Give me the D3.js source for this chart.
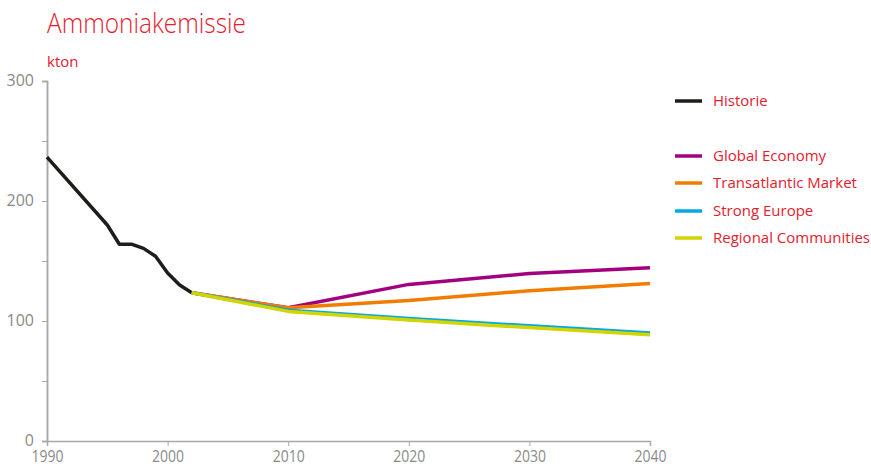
<!DOCTYPE html>
<html>
<head>
<meta charset="utf-8">
<script src="https://cdn.jsdelivr.net/npm/d3@7"></script>
<style>
  body { margin: 0; background: #fff; }
  text { font-family: "Open Sans", sans-serif; }
</style>
</head>
<body>
<div id="chart"></div>
<script>
// values
const histYears = [1990, 1995, 1996, 1997, 1998, 1999, 2000, 2001, 2002]
const histValues = [236.5, 180, 164, 164, 160.5, 154, 140, 130, 123.5]

const scenYears = [2002, 2010, 2020, 2030, 2040]
const globalEconomy = [123.5, 111, 130.5, 139.5, 144.3]
const transatlantic = [123.5, 111, 117, 125.3, 131.3]
const strongEurope = [123.5, 109, 102, 96, 90]
const regional = [123.5, 108, 100.8, 94.5, 88.5]

const yTicks = [0, 100, 200, 300]
const yMinor = [50, 150, 250]
const xTicks = [1990, 2000, 2010, 2020, 2030, 2040]

const series = [
  { name: 'Historie', years: histYears, values: histValues, color: '#1d1d1b' },
  { name: 'Global Economy', years: scenYears, values: globalEconomy, color: '#a3007f' },
  { name: 'Transatlantic Market', years: scenYears, values: transatlantic, color: '#f07d00' },
  { name: 'Strong Europe', years: scenYears, values: strongEurope, color: '#00a8e6' },
  { name: 'Regional Communities', years: scenYears, values: regional, color: '#d2d500' }
]

const width = 871, height = 466
const red = '#e5202e', grey = '#8a8a8a', axisCol = '#a8a8a8'

const svg = d3.select('#chart').append('svg')
  .attr('width', width)
  .attr('height', height)

const x = d3.scaleLinear().domain([1990, 2040]).range([47, 650])
const y = d3.scaleLinear().domain([0, 300]).range([441, 81])

// title + unit
svg.append('text')
  .attr('x', 47).attr('y', 33)
  .attr('fill', red)
  .style('font-size', '27px').style('font-weight', 300)
  .attr('textLength', 199).attr('lengthAdjust', 'spacingAndGlyphs')
  .text('Ammoniakemissie')
svg.append('text')
  .attr('x', 47).attr('y', 67)
  .attr('fill', red)
  .style('font-size', '15px')
  .text('kton')

// y axis
const yAxis = svg.append('g')
  .attr('transform', `translate(${x(1990)},0)`)
  .call(d3.axisLeft(y).tickValues(yTicks).tickSize(5).tickFormat(d3.format('d')))
yAxis.append('g')
  .call(d3.axisLeft(y).tickValues(yMinor).tickSize(5).tickFormat(''))
yAxis.selectAll('.domain').attr('stroke', axisCol).attr('stroke-width', 1.5)
yAxis.selectAll('.tick line').attr('stroke', axisCol).attr('stroke-width', 1)
yAxis.selectAll('.tick text')
  .attr('fill', grey)
  .attr('x', -13)
  .attr('dy', '0.25em')
  .style('font-size', '16px')
  .style('font-family', '"Open Sans", sans-serif')

// x axis
const xAxis = svg.append('g')
  .attr('transform', `translate(0,${y(0)})`)
  .call(d3.axisBottom(x).tickValues(xTicks).tickSize(5).tickFormat(d3.format('d')))
xAxis.select('.domain').attr('stroke', axisCol).attr('stroke-width', 1.5)
xAxis.selectAll('.tick line').attr('stroke', axisCol)
xAxis.selectAll('.tick text')
  .attr('fill', grey)
  .attr('y', 10)
  .style('font-size', '16px')
  .style('font-family', '"Open Sans", sans-serif')
  .attr('textLength', 32).attr('lengthAdjust', 'spacingAndGlyphs')

// lines
const line = d3.line()
  .x(d => x(d[0]))
  .y(d => y(d[1]))

svg.selectAll('.series')
  .data(series)
  .enter().append('path')
  .attr('class', 'series')
  .attr('fill', 'none')
  .attr('stroke', d => d.color)
  .attr('stroke-width', 3.5)
  .attr('stroke-linejoin', 'round')
  .attr('d', d => line(d.years.map((yr, i) => [yr, d.values[i]])))

// legend
const legendY = [101, 156, 183, 211, 238]
const legend = svg.selectAll('.legend')
  .data(series)
  .enter().append('g')
  .attr('class', 'legend')
  .attr('transform', (d, i) => `translate(675,${legendY[i]})`)
legend.append('line')
  .attr('x1', 0).attr('x2', 27)
  .attr('stroke', d => d.color)
  .attr('stroke-width', 3.5)
legend.append('text')
  .attr('x', 38).attr('y', 5)
  .attr('fill', red)
  .style('font-size', '15px')
  .text(d => d.name)
</script>
</body>
</html>
